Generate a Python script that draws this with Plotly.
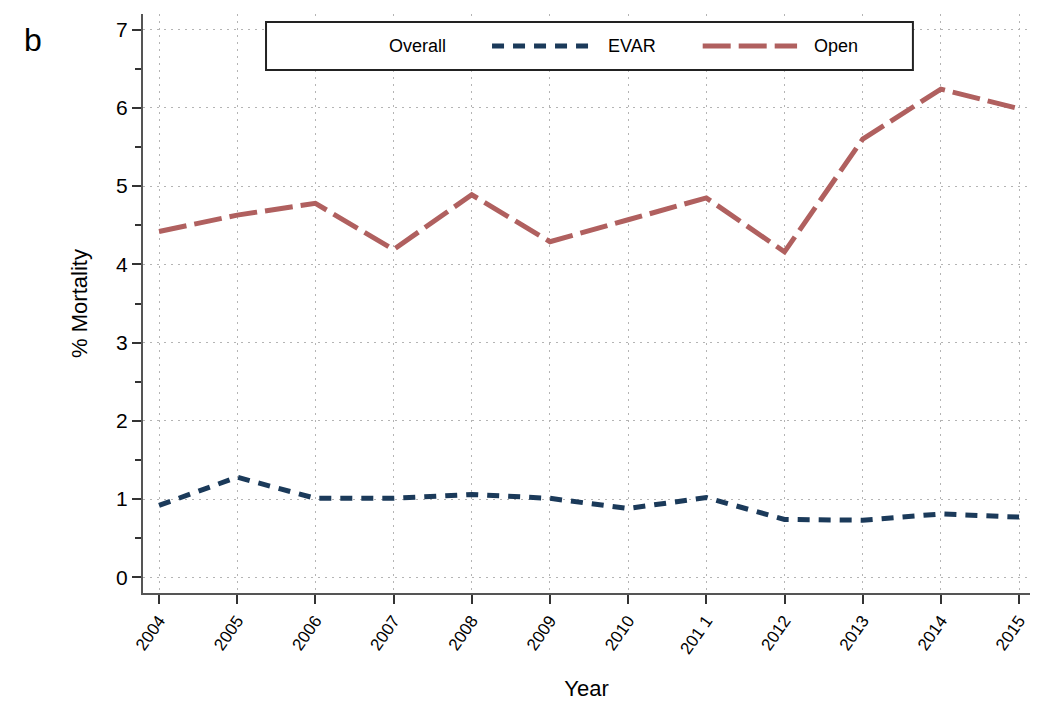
import plotly.graph_objects as go

years = [2004, 2005, 2006, 2007, 2008, 2009, 2010, 2011, 2012, 2013, 2014, 2015]
tick_labels = ["2004", "2005", "2006", "2007", "2008", "2009", "2010", "201 1", "2012", "2013", "2014", "2015"]
evar = [0.92, 1.28, 1.01, 1.01, 1.06, 1.01, 0.88, 1.02, 0.74, 0.73, 0.81, 0.77]
open_repair = [4.42, 4.63, 4.78, 4.19, 4.89, 4.29, 4.57, 4.85, 4.16, 5.60, 6.24, 5.99]
legend_names = ["Overall", "EVAR", "Open"]

FONT = "Liberation Sans, Arial, sans-serif"
EVAR_COLOR = "#1b3a5a"
OPEN_COLOR = "#b0605f"
EVAR_DASH = "12px,9px"
OPEN_DASH = "28px,8px"

fig = go.Figure()
fig.add_trace(go.Scatter(x=years, y=evar, mode="lines", name=legend_names[1],
                         line=dict(color=EVAR_COLOR, width=5, dash=EVAR_DASH)))
fig.add_trace(go.Scatter(x=years, y=open_repair, mode="lines", name=legend_names[2],
                         line=dict(color=OPEN_COLOR, width=5, dash=OPEN_DASH)))

fig.update_layout(
    width=1050, height=706,
    margin=dict(l=135, r=28, t=6, b=121),
    plot_bgcolor="white", paper_bgcolor="white",
    font=dict(family=FONT, color="black"),
    showlegend=False,
    xaxis=dict(range=[2003.795, 2015.14], tickmode="array", tickvals=years, ticktext=tick_labels,
               tickangle=-55, tickfont=dict(size=17), ticks="outside", ticklen=9,
               tickwidth=2, tickcolor="#333",
               showline=True, linecolor="#555", linewidth=2,
               showgrid=True, gridcolor="#b4b4b4", griddash="2px,5px", gridwidth=1,
               zeroline=False,
               title=dict(text="Year", font=dict(size=22), standoff=24)),
    yaxis=dict(range=[-0.2, 7.2], tickmode="linear", tick0=0, dtick=1,
               tickfont=dict(size=21), ticks="outside", ticklen=9, tickwidth=2,
               tickcolor="#333",
               minor=dict(dtick=0.5, tick0=0, ticks="outside", ticklen=6, tickwidth=2,
                          tickcolor="#333", showgrid=False),
               showline=True, linecolor="#555", linewidth=2,
               showgrid=True, gridcolor="#b4b4b4", griddash="2px,5px", gridwidth=1,
               zeroline=False,
               title=dict(text="% Mortality", font=dict(size=22), standoff=22)),
)

# Legend drawn as a bordered box with long line samples (as in the reference)
fig.add_shape(type="rect", xref="paper", yref="paper", x0=0.1387, x1=0.868, y0=0.9033, y1=0.9862,
              line=dict(color="#222", width=2), fillcolor="white", layer="above")
ly = 0.9447
fig.add_annotation(text=legend_names[0], xref="paper", yref="paper", x=0.309, y=ly,
                   xanchor="center", yanchor="middle", showarrow=False, font=dict(size=18))
fig.add_shape(type="line", xref="paper", yref="paper", x0=0.3935, x1=0.504, y0=ly, y1=ly,
              line=dict(color=EVAR_COLOR, width=5, dash=EVAR_DASH), layer="above")
fig.add_annotation(text=legend_names[1], xref="paper", yref="paper", x=0.522, y=ly,
                   xanchor="left", yanchor="middle", showarrow=False, font=dict(size=18))
fig.add_shape(type="line", xref="paper", yref="paper", x0=0.631, x1=0.7374, y0=ly, y1=ly,
              line=dict(color=OPEN_COLOR, width=5, dash=OPEN_DASH), layer="above")
fig.add_annotation(text=legend_names[2], xref="paper", yref="paper", x=0.7544, y=ly,
                   xanchor="left", yanchor="middle", showarrow=False, font=dict(size=18))

fig.add_annotation(text="b", xref="paper", yref="paper", x=-0.1364, y=0.955,
                   xanchor="left", yanchor="middle", showarrow=False, font=dict(size=32, family=FONT))

fig.write_html("out.html")
